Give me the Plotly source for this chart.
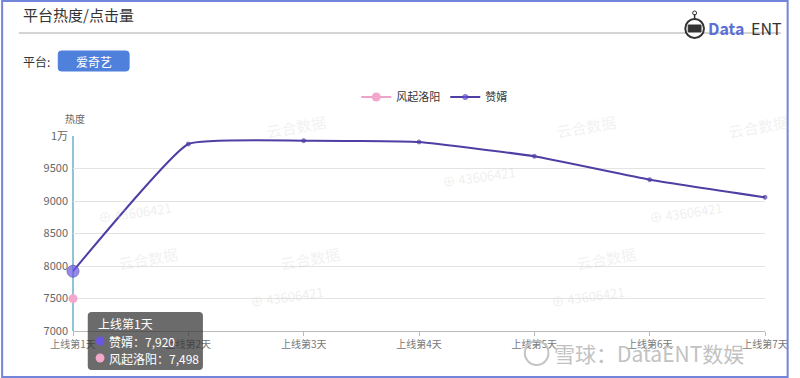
import plotly.graph_objects as go

categories = ["上线第1天", "上线第2天", "上线第3天", "上线第4天", "上线第5天", "上线第6天", "上线第7天"]
zanxu = [7920, 9877, 9928, 9908, 9688, 9328, 9057]
fengqi = [7498, None, None, None, None, None, None]
ytick_vals = [7000, 7500, 8000, 8500, 9000, 9500, 10000]
ytick_text = ["7000", "7500", "8000", "8500", "9000", "9500", "1万"]

W, H = 800, 378
L, R, T, B = 73, 776, 136, 331
FONT = "Noto Sans CJK SC, Noto Sans, sans-serif"

def px(x):
    return (x - L) / (R - L)

def py(y):
    return (B - y) / (B - T)

fig = go.Figure()
fig.add_trace(go.Scatter(
    x=categories, y=fengqi, name="风起洛阳", mode="lines+markers",
    line=dict(color="#f0a3c9", width=2),
    marker=dict(color="#f2a7cb", size=9),
    hoverinfo="skip", cliponaxis=False,
))
fig.add_trace(go.Scatter(
    x=categories, y=zanxu, name="赞婿", mode="lines+markers",
    line=dict(color="#4d3fa3", width=2, shape="spline", smoothing=0.35),
    marker=dict(color=["#6a57e0"] + ["#4d3fa3"] * 6, size=[12, 4, 4, 4, 4, 4, 4]),
    hoverinfo="skip", cliponaxis=False,
))

shapes = []
annotations = []

def rounded(x0, x1, y0, y1, r):
    return (f"M {px(x0+r)},{py(y0)} L {px(x1-r)},{py(y0)} "
            f"Q {px(x1)},{py(y0)} {px(x1)},{py(y0+r)} L {px(x1)},{py(y1-r)} "
            f"Q {px(x1)},{py(y1)} {px(x1-r)},{py(y1)} L {px(x0+r)},{py(y1)} "
            f"Q {px(x0)},{py(y1)} {px(x0)},{py(y1-r)} L {px(x0)},{py(y0+r)} "
            f"Q {px(x0)},{py(y0)} {px(x0+r)},{py(y0)} Z")

# outer border
shapes.append(dict(type="rect", xref="paper", yref="paper",
                   x0=px(1), x1=px(799), y0=py(1), y1=py(377),
                   line=dict(color="#7385da", width=2), layer="above"))
# title underline
shapes.append(dict(type="line", xref="paper", yref="paper",
                   x0=px(18), x1=px(792), y0=py(33), y1=py(33),
                   line=dict(color="#a8a8a8", width=1)))
# platform button
shapes.append(dict(type="path", xref="paper", yref="paper", path=rounded(58, 130, 51, 71, 3),
                   fillcolor="#4f80dc", line=dict(color="#4f80dc", width=1)))

# axis pointer line at day 1
shapes.append(dict(type="line", xref="paper", yref="paper",
                   x0=px(73), x1=px(73), y0=py(136), y1=py(331),
                   line=dict(color="#69b1c8", width=1.5), layer="below"))

# logo robot
shapes.append(dict(type="circle", xref="paper", yref="paper",
                   x0=px(695), x1=px(714), y0=py(19), y1=py(38),
                   line=dict(color="#333", width=2), fillcolor="white"))
shapes.append(dict(type="rect", xref="paper", yref="paper",
                   x0=px(698), x1=px(711), y0=py(25), y1=py(32),
                   line=dict(color="#333", width=1), fillcolor="#333"))
shapes.append(dict(type="line", xref="paper", yref="paper",
                   x0=px(704.5), x1=px(704.5), y0=py(14), y1=py(19),
                   line=dict(color="#333", width=1.5)))
shapes.append(dict(type="circle", xref="paper", yref="paper",
                   x0=px(702.5), x1=px(706.5), y0=py(11), y1=py(15),
                   line=dict(color="#333", width=1)))

# tooltip
shapes.append(dict(type="path", xref="paper", yref="paper", path=rounded(88, 205, 312, 370, 4),
                   fillcolor="rgba(50,50,50,0.72)", line=dict(width=0), layer="above"))
shapes.append(dict(type="circle", xref="paper", yref="paper",
                   x0=px(96), x1=px(105), y0=py(336.5), y1=py(345.5),
                   fillcolor="#6a57e0", line=dict(width=0), layer="above"))
shapes.append(dict(type="circle", xref="paper", yref="paper",
                   x0=px(96), x1=px(105), y0=py(353.5), y1=py(362.5),
                   fillcolor="#f2a7cb", line=dict(width=0), layer="above"))

def text(x, y, s, size=12, color="#333", xanchor="left", yanchor="middle", **kw):
    annotations.append(dict(xref="paper", yref="paper", x=px(x), y=py(y), text=s,
                            showarrow=False, xanchor=xanchor, yanchor=yanchor,
                            font=dict(family=FONT, size=size, color=color), **kw))

# faint watermarks
for (wx, wy) in [(95, 212), (445, 176), (250, 296), (555, 296), (655, 212)]:
    text(wx, wy, "⊕ 43606421", size=13, color="rgba(200,200,200,0.3)", textangle=-8)
for (wx, wy) in [(265, 126), (560, 126), (735, 126), (280, 258), (580, 258), (115, 258)]:
    text(wx, wy, "云合数据", size=15, color="rgba(200,200,200,0.25)", textangle=-10)

text(20, 14, "平台热度/点击量", size=15, color="#333")
text(20, 61, "平台:", size=12, color="#333")
text(94, 61, "爱奇艺", size=12, color="white", xanchor="center")
text(716, 28, "<b>Data</b>", size=16, color="#5b6fd6")
text(760, 28, "ENT", size=16, color="#333")
text(63, 118, "热度", size=10, color="#666")

# tooltip text
text(96, 323, "上线第1天", size=12, color="white")
text(108, 341, "赞婿：7,920", size=12, color="white")
text(108, 358, "风起洛阳：7,498", size=12, color="white")

# bottom watermark
shapes.append(dict(type="circle", xref="paper", yref="paper",
                   x0=px(532), x1=px(556), y0=py(341), y1=py(365),
                   line=dict(color="#c4c4c4", width=2), fillcolor="rgba(0,0,0,0)", layer="above"))
text(560, 353, "雪球：DataENT数娱", size=21, color="#c2c2c2")

fig.update_layout(
    width=W, height=H,
    margin=dict(l=L, r=W - R, t=T, b=H - B),
    paper_bgcolor="white", plot_bgcolor="white",
    font=dict(family=FONT, size=11, color="#666"),
    showlegend=True,
    legend=dict(orientation="h", x=px(440), y=py(97), xanchor="center", yanchor="middle",
                font=dict(size=11, color="#333"), itemwidth=30, bgcolor="rgba(0,0,0,0)"),
    xaxis=dict(type="category", categoryorder="array", categoryarray=categories,
               range=[0, 6], showgrid=False, showline=True, linecolor="#bbb",
               ticks="outside", ticklen=4, tickcolor="#bbb", zeroline=False,
               tickfont=dict(size=10, color="#777"), fixedrange=True),
    yaxis=dict(range=[7000, 10000], tickvals=ytick_vals, ticktext=ytick_text,
               showgrid=True, gridcolor="#e3e3e3", gridwidth=1, zeroline=False,
               showline=False, ticks="", tickfont=dict(size=11, color="#666"),
               ticklabelstandoff=4, fixedrange=True),
    shapes=shapes, annotations=annotations,
    hovermode=False,
)

fig.write_html("out.html")
